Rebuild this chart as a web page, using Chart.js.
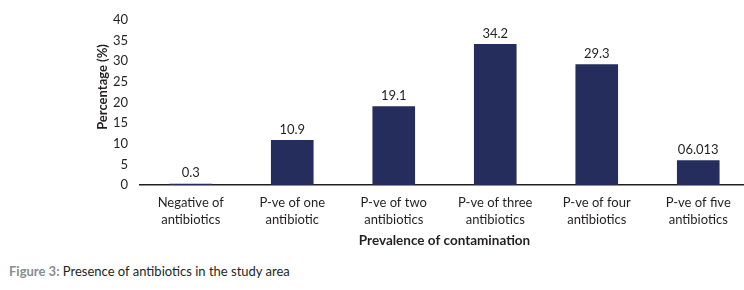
<!DOCTYPE html>
<html>
<head>
<meta charset="utf-8">
<script src="https://cdn.jsdelivr.net/npm/chart.js@4/dist/chart.umd.min.js"></script>
<style>
  html, body { margin: 0; padding: 0; background: #fff; overflow: hidden; }
  #wrap { position: absolute; left: 0; top: 0; width: 752px; height: 249px; }
  #caption { position: absolute; left: 9px; top: 263px; font: 13px Lato, sans-serif; color: #231f20; }
  #caption b { color: #8a8c8e; }
</style>
</head>
<body>
<div id="wrap"><canvas id="myChart"></canvas></div>
<div id="caption"><b>Figure 3:</b> Presence of antibiotics in the study area</div>
<script>
// categories (two-line tick labels)
var categories = [
  ['Negative of', 'antibiotics'],
  ['P-ve of one', 'antibiotic'],
  ['P-ve of two', 'antibiotics'],
  ['P-ve of three', 'antibiotics'],
  ['P-ve of four', 'antibiotics'],
  ['P-ve of five', 'antibiotics']
];
// percentages
var percentValues = [0.3, 10.9, 19.1, 34.2, 29.3, 6.013];
// labels printed over the bars
var valueLabels = ['0.3', '10.9', '19.1', '34.2', '29.3', '06.013'];
var yTicks = [0, 5, 10, 15, 20, 25, 30, 35, 40];

var ink = '#231f20';

// numbers above bars
var barLabels = {
  id: 'barLabels',
  afterDatasetsDraw: function(chart) {
    var ctx = chart.ctx;
    var meta = chart.getDatasetMeta(0);
    ctx.save();
    ctx.font = '13px Lato, sans-serif';
    ctx.fillStyle = ink;
    ctx.textAlign = 'center';
    ctx.textBaseline = 'bottom';
    meta.data.forEach(function(bar, i) {
      ctx.fillText(valueLabels[i], bar.x, bar.y - 4);
    });
    ctx.restore();
  }
};

// y axis title, sits a bit above the middle like the original
var yTitle = {
  id: 'yTitle',
  afterDraw: function(chart) {
    var ctx = chart.ctx;
    ctx.save();
    ctx.translate(103, 87);
    ctx.rotate(-Math.PI / 2);
    ctx.font = 'bold 13px Lato, sans-serif';
    ctx.fillStyle = ink;
    ctx.textAlign = 'center';
    ctx.textBaseline = 'middle';
    ctx.fillText('Percentage (%)', 0, 0);
    ctx.restore();
  }
};

var ctx = document.getElementById('myChart');
var myChart = new Chart(ctx, {
  type: 'bar',
  data: {
    labels: categories,
    datasets: [{
      data: percentValues,
      backgroundColor: '#252d5c',
      barPercentage: 0.42,
      categoryPercentage: 1
    }]
  },
  options: {
    responsive: true,
    maintainAspectRatio: false,
    animation: false,
    layout: { padding: { top: 20, left: 0, right: 3, bottom: 0 } },
    plugins: {
      legend: { display: false },
      tooltip: { enabled: false }
    },
    scales: {
      x: {
        grid: { display: false },
        border: { display: true, color: ink, width: 1.5 },
        ticks: {
          color: ink,
          padding: 1,
          maxRotation: 0,
          autoSkip: false,
          font: { family: 'Lato, sans-serif', size: 13, lineHeight: 1.3 }
        },
        title: {
          display: true,
          text: 'Prevalence of contamination',
          color: ink,
          padding: { top: 4, bottom: 0 },
          font: { family: 'Lato, sans-serif', size: 13.5, weight: 'bold' }
        }
      },
      y: {
        min: 0,
        max: 40,
        afterBuildTicks: function(scale) {
          scale.ticks = yTicks.map(function(v) { return { value: v }; });
        },
        afterFit: function(scale) { scale.width = 140; },
        grid: { display: false },
        border: { display: false },
        ticks: {
          color: ink,
          padding: 4,
          font: { family: 'Lato, sans-serif', size: 13 }
        }
      }
    }
  },
  plugins: [barLabels, yTitle]
});
</script>
</body>
</html>
